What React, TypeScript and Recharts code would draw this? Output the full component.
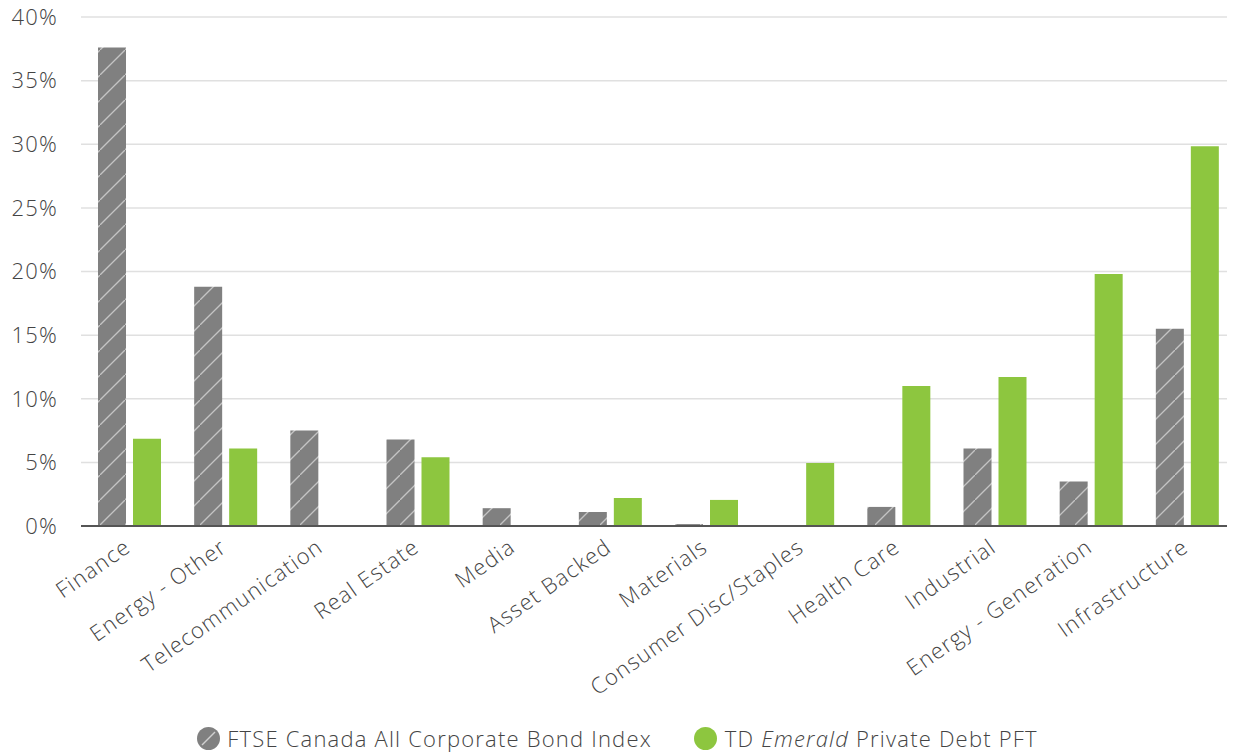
import React from "react";
import { BarChart, Bar, XAxis, YAxis, CartesianGrid, Legend } from "recharts";

const categories = [
  "Finance",
  "Energy - Other",
  "Telecommunication",
  "Real Estate",
  "Media",
  "Asset Backed",
  "Materials",
  "Consumer Disc/Staples",
  "Health Care",
  "Industrial",
  "Energy - Generation",
  "Infrastructure",
];
const ftseValues = [37.6, 18.8, 7.5, 6.8, 1.4, 1.1, 0.15, 0, 1.5, 6.1, 3.5, 15.5];
const tdValues = [6.85, 6.1, 0, 5.4, 0, 2.2, 2.05, 4.95, 11.0, 11.7, 19.8, 29.85];
const yTicks = [0, 5, 10, 15, 20, 25, 30, 35, 40];
const seriesNames = ["FTSE Canada All Corporate Bond Index", "TD Emerald Private Debt PFT"];

const data = categories.map((c, i) => ({ name: c, ftse: ftseValues[i], td: tdValues[i] }));

const FONT = "'Open Sans', Lato, sans-serif";
const TEXT = "#444444";
const GRAY = "#808080";
const GREEN = "#8dc63f";
const LS = 1.2;
const FS = 22;

const XTick = (props: any) => {
  const { x, y, payload } = props;
  return (
    <g transform={`translate(${x - 5},${y + 5})`}>
      <text
        textAnchor="end"
        transform="rotate(-35)"
        fontFamily={FONT}
        fontWeight={300}
        fontSize={FS}
        letterSpacing={LS}
        fill={TEXT}
        dy={14}
      >
        {payload.value}
      </text>
    </g>
  );
};

const LegendContent = () => (
  <div
    style={{
      height: 59,
      display: "flex",
      justifyContent: "center",
      alignItems: "flex-end",
      fontFamily: FONT,
      fontWeight: 300,
      fontSize: FS,
      letterSpacing: LS,
      color: TEXT,
      paddingBottom: 2,
      boxSizing: "border-box",
    }}
  >
    <div style={{ display: "flex", alignItems: "center", marginRight: 42 }}>
      <svg width={23} height={23} style={{ marginRight: 7 }}>
        <circle cx={11.5} cy={11.5} r={11.5} fill={GRAY} />
        <line x1={5} y1={18} x2={18} y2={5} stroke="#d0d0d0" strokeWidth={1.5} />
      </svg>
      <span>{seriesNames[0]}</span>
    </div>
    <div style={{ display: "flex", alignItems: "center" }}>
      <svg width={23} height={23} style={{ marginRight: 8 }}>
        <circle cx={11.5} cy={11.5} r={11.5} fill={GREEN} />
      </svg>
      <span>
        TD <i>Emerald</i> Private Debt PFT
      </span>
    </div>
  </div>
);

export default function App() {
  return (
    <div style={{ marginLeft: -8, marginTop: -8, width: 1235, height: 755, background: "#fff" }}>
      <BarChart
        width={1235}
        height={755}
        data={data}
        margin={{ top: 17, right: 0, left: 0, bottom: 0 }}
        barSize={28}
        barGap={7}
      >
        <defs>
          <pattern id="hatch" patternUnits="userSpaceOnUse" width={25} height={25}>
            <rect width={25} height={25} fill={GRAY} />
            <line x1={-2} y1={27} x2={27} y2={-2} stroke="#c4c4c4" strokeWidth={1.3} />
          </pattern>
        </defs>
        <CartesianGrid vertical={false} stroke="#e0e0e0" strokeWidth={1.5} />
        <XAxis
          dataKey="name"
          interval={0}
          height={170}
          tick={<XTick />}
          tickLine={false}
          axisLine={{ stroke: "#555555", strokeWidth: 2 }}
        />
        <YAxis
          width={81}
          domain={[0, 40]}
          ticks={yTicks}
          tickFormatter={(v: number) => `${v}%`}
          axisLine={false}
          tickLine={false}
          tickSize={0}
          tickMargin={23}
          tick={{ fontFamily: FONT, fontWeight: 300, fontSize: FS, fill: TEXT, letterSpacing: LS }}
        />
        <Legend verticalAlign="bottom" content={<LegendContent />} />
        <Bar dataKey="ftse" name={seriesNames[0]} fill="url(#hatch)" isAnimationActive={false} />
        <Bar dataKey="td" name={seriesNames[1]} fill={GREEN} isAnimationActive={false} />
      </BarChart>
    </div>
  );
}
